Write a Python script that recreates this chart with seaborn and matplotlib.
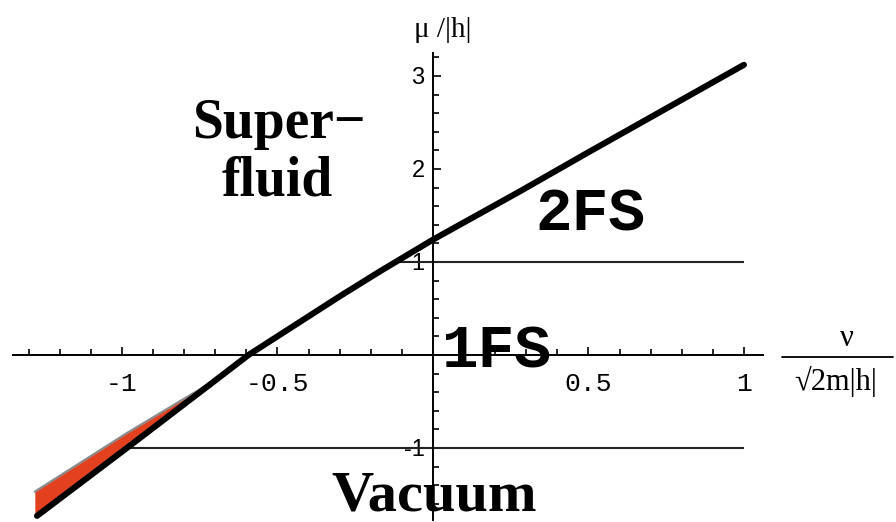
import numpy as np
import pandas as pd
import matplotlib
matplotlib.use("Agg")
import matplotlib.pyplot as plt
from matplotlib.ticker import FixedLocator
from matplotlib.lines import Line2D
import seaborn as sns

# ---- data ----
nu = [-1.273, -0.984, -0.71, -0.593, -0.30, -0.17, -0.12, 0.0, 0.28, 0.5, 1.0]
mu = [-1.73, -1.0, -0.30, 0.0, 0.63, 0.90, 1.0, 1.24, 1.76, 2.18, 3.12]

red_nu = [-1.28, -0.984, -0.71]
red_upper = [-1.47, -0.84, -0.29]
red_lower = [-1.74, -1.0, -0.30]

hline_y = [1, -1]
hline_start = [-0.12, -0.984]
hline_end = [1, 1]

xtick_major = [-1, -0.5, 0.5, 1]
xtick_labels = ["-1", "-0.5", "0.5", "1"]
ytick_major = [-1, 1, 2, 3]
ytick_labels = ["-1", "1", "2", "3"]

df = pd.DataFrame({"nu": nu, "mu": mu})

sns.set_style("white")
plt.rcParams["font.family"] = ["DejaVu Sans"]
plt.rcParams["text.color"] = "black"

W, H = 896, 522
fig = plt.figure(figsize=(W / 100, H / 100), dpi=100)
ax = fig.add_axes([0, 0, 1, 1])
ax.set_xlim(-1.392, 1.489)
ax.set_ylim(-1.796, 3.817)
ax.patch.set_alpha(0)

# red region with grey upper edge
ax.fill_between(red_nu, red_lower, red_upper, color="#E2401F", lw=0, zorder=3)
ax.plot(red_nu, red_upper, color="#8a8a8a", lw=1.6, zorder=3.5)

# horizontal lines
ax.hlines(hline_y, hline_start, hline_end, color="#222222", lw=1.5, zorder=2)

# main curve
sns.lineplot(data=df, x="nu", y="mu", sort=False, estimator=None, color="black",
             lw=4.4, ax=ax, zorder=5, solid_capstyle="round", solid_joinstyle="round")

# axes through origin
for s in ["top", "right"]:
    ax.spines[s].set_visible(False)
ax.spines["left"].set_position(("data", 0))
ax.spines["bottom"].set_position(("data", 0))
ax.spines["left"].set_bounds(-1.77, 3.25)
ax.spines["bottom"].set_bounds(-1.35, 1.06)
for s in ["left", "bottom"]:
    ax.spines[s].set_linewidth(1.4)
    ax.spines[s].set_color("black")
    ax.spines[s].set_zorder(4)

ax.xaxis.set_major_locator(FixedLocator(xtick_major))
ax.xaxis.set_minor_locator(FixedLocator([v / 10 for v in range(-13, 11) if v % 5 != 0]))
ax.set_xticklabels(xtick_labels)
ax.yaxis.set_major_locator(FixedLocator(ytick_major))
ax.yaxis.set_minor_locator(FixedLocator([v / 5 for v in range(-8, 17) if v % 5 != 0]))
ax.set_yticklabels(ytick_labels)

ax.tick_params(axis="x", which="both", bottom=True, top=False)
ax.tick_params(axis="y", which="both", left=True, right=False)
ax.tick_params(axis="x", which="major", direction="in", length=6, width=1.2, pad=12,
               labelsize=19, colors="black")
ax.tick_params(axis="x", which="minor", direction="in", length=4, width=1.2, colors="black")
ax.tick_params(axis="y", which="major", direction="in", length=6, width=1.2, pad=6,
               labelsize=17, colors="black")
ax.tick_params(axis="y", which="minor", direction="in", length=4, width=1.2, colors="black")
for lab in ax.get_xticklabels():
    lab.set_family("Liberation Mono")
for lab in ax.get_yticklabels():
    lab.set_family("Liberation Sans")
ax.set_xlabel("")
ax.set_ylabel("")

# region labels
ax.text(-0.495, 2.33, "Super\u2212", family="Liberation Serif", weight="bold",
        fontsize=40, ha="center", va="baseline", color="black")
ax.text(-0.50, 1.72, "fluid", family="Liberation Serif", weight="bold",
        fontsize=40, ha="center", va="baseline", color="black")
ax.text(0.505, 1.34, "2FS", family="Liberation Mono", weight="bold",
        fontsize=44, ha="center", va="baseline", color="black")
ax.text(0.206, -0.13, "1FS", family="Liberation Mono", weight="bold",
        fontsize=44, ha="center", va="baseline", zorder=6, color="black")
ax.text(0.003, -1.67, "Vacuum", family="Liberation Serif", weight="bold",
        fontsize=42, ha="center", va="baseline", color="black")

# axis labels
fig.text(443 / W, 1 - 30 / H, "\u03bc /|h|", family="Liberation Serif",
         fontsize=21, ha="center", va="center", color="black")
fig.text(847 / W, 1 - 338 / H, "\u03bd", family="Liberation Serif",
         fontsize=22, ha="center", va="center", color="black")
fig.add_artist(Line2D([782 / W, 893 / W], [1 - 357 / H, 1 - 357 / H],
                      color="black", lw=1.3))
fig.text(836 / W, 1 - 381 / H, "\u221a2m|h|", family="Liberation Serif",
         fontsize=22, ha="center", va="center", color="black")

fig.savefig("out.png", dpi=100)
